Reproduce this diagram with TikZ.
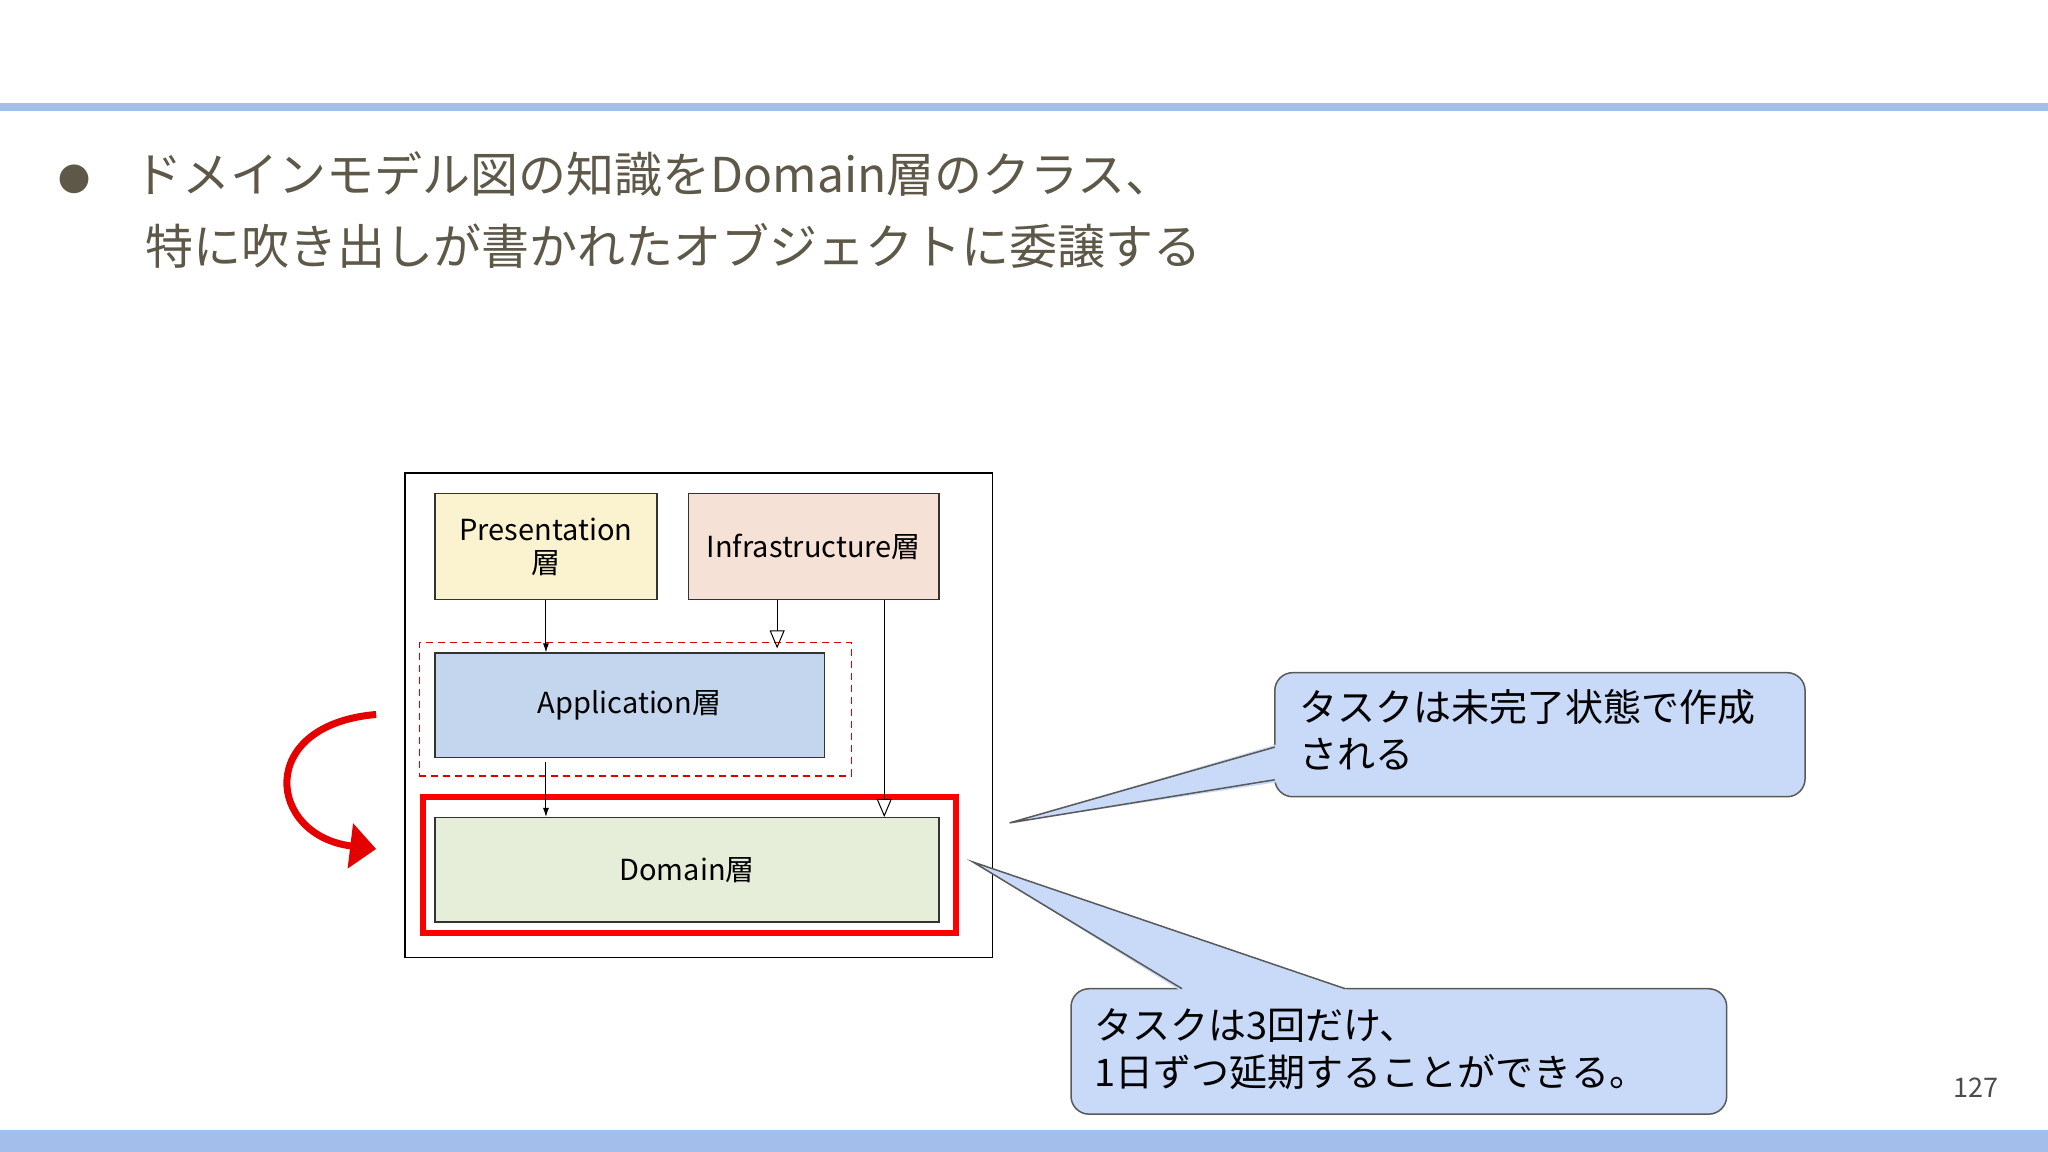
\documentclass[tikz,border=0pt]{standalone}
\usepackage{fontspec}
\setmainfont{Noto Sans CJK JP}
\usetikzlibrary{arrows.meta,calc}
\definecolor{txt}{HTML}{5E5848}
\definecolor{bar}{HTML}{A4BEEC}
\definecolor{call}{HTML}{C9DAF8}
\definecolor{presc}{HTML}{FBF2D0}
\definecolor{infc}{HTML}{F6E1D6}
\definecolor{appc}{HTML}{C3D6EE}
\definecolor{domc}{HTML}{E6EDD8}
\tikzset{
 layer/.style={draw=black!80,line width=1.3pt,inner sep=0pt,font=\fontsize{29}{33}\selectfont,align=center},
 dep/.style={line width=1pt,-{Latex[length=9pt,width=6pt]}},
 impl/.style={line width=1pt,-{Triangle[open,length=18pt,width=15pt]}},
 callout/.style={fill=call,draw=black!65,line width=1.5pt},
 ctext/.style={font=\fontsize{38}{47}\selectfont,align=left,anchor=north west,inner sep=0pt}
}
\begin{document}
\begin{tikzpicture}[x=1.306pt,y=-1.306pt]
\useasboundingbox (0,0) rectangle (1568,882);
\fill[white] (0,0) rectangle (1568,882);
\fill[bar] (0,79) rectangle (1568,85);
\fill[bar] (0,865) rectangle (1568,882);
\node[txt,font=\fontsize{32}{32}\selectfont] (bul) at (57,137) {●};
\node[txt,anchor=west,inner sep=0pt,align=left,font=\fontsize{48}{72}\selectfont] (title) at (103,161) {ドメインモデル図の知識をDomain層のクラス、\\\ 特に吹き出しが書かれたオブジェクトに委譲する};
\node[draw=black,line width=1.6pt,minimum width=450*1.306pt,minimum height=371*1.306pt,inner sep=0pt] (outer) at (535,547.5) {};
\node[layer,fill=presc,minimum width=170*1.306pt,minimum height=81*1.306pt] (pres) at (418,418.5) {Presentation\\層};
\node[layer,fill=infc,minimum width=192*1.306pt,minimum height=81*1.306pt] (inf) at (623,418.5) {Infrastructure層};
\node[draw=red!85!black,dashed,line width=1.5pt,dash pattern=on 7pt off 5pt,minimum width=331*1.306pt,minimum height=102*1.306pt,inner sep=0pt] (dash) at (486.5,543) {};
\node[layer,fill=appc,minimum width=298*1.306pt,minimum height=80*1.306pt] (app) at (482,540) {Application層};
\node[draw=red,line width=6pt,minimum width=408*1.306pt,minimum height=104*1.306pt,inner sep=0pt] (redbox) at (528,662) {};
\node[layer,fill=domc,minimum width=386*1.306pt,minimum height=80*1.306pt] (dom) at (526,666) {Domain層};
\draw[dep] (pres.south) -- (pres.south |- app.north);
\draw[dep] ($(app.south)+(-64,3)$) coordinate (a1) -- (a1 |- dom.north);
\draw[impl] ($(inf.south)+(-28,0)$) coordinate (i1) -- ($(i1 |- dash.north)+(0,5)$);
\draw[impl] ($(inf.south)+(54,0)$) coordinate (i2) -- (i2 |- dom.north);
% red curved arrow
\draw[red!90!black,line width=7pt,-{Triangle[length=26pt,width=44pt]}] (288,547) .. controls (195,555) and (205,640) .. (288,650);
% callout 1
\coordinate (t1) at (773,630);
\draw[callout,rounded corners=18pt] (976,515) rectangle (1382,610);
\fill[call] (977,570) -- (t1) -- (977,599) -- cycle;
\draw[black!65,line width=1.5pt] (976,572) -- (t1) -- (976,597);
\node[ctext] (c1) at (995,528) {タスクは未完了状態で作成\\される};
% callout 2
\coordinate (t2) at (745,660);
\draw[callout,rounded corners=18pt] (820,757) rectangle (1322,853);
\fill[call] (903,758) -- (t2) -- (1032,758) -- cycle;
\draw[black!65,line width=1.5pt] (905,757) -- (t2) -- (1030,757);
\node[ctext] (c2) at (838,772) {タスクは3回だけ、\\1日ずつ延期することができる。};
\node[black!70,font=\fontsize{27}{27}\selectfont] (pg) at (1513,833) {127};
\end{tikzpicture}
\end{document}
